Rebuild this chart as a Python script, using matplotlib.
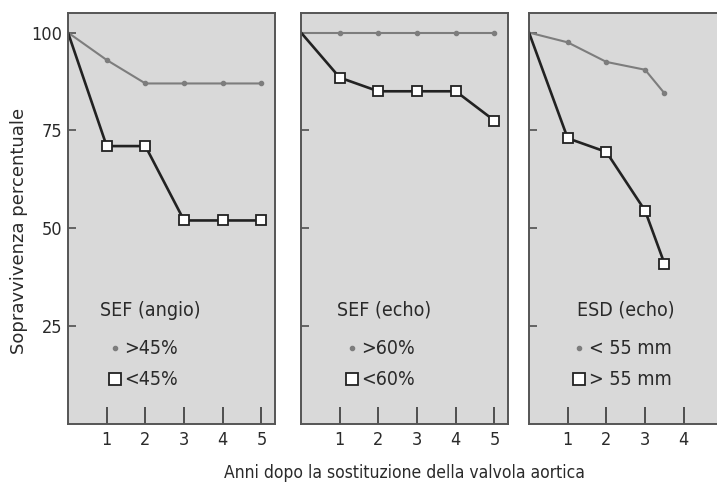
import matplotlib.pyplot as plt
from matplotlib.lines import Line2D

plt.rcParams['font.family'] = ['DejaVu Sans']
plt.rcParams['font.stretch'] = 'condensed'
plt.rcParams['text.color'] = '#2a2a2a'
plt.rcParams['xtick.labelcolor'] = '#2a2a2a'
plt.rcParams['ytick.labelcolor'] = '#2a2a2a'

# data
years_angio = [0, 1, 2, 3, 4, 5]
angio_hi = [100, 93, 87, 87, 87, 87]        # SEF > 45%
angio_lo = [100, 71, 71, 52, 52, 52]        # SEF < 45%

years_echo = [0, 1, 2, 3, 4, 5]
echo_hi = [100, 100, 100, 100, 100, 100]    # SEF > 60%
echo_lo = [100, 88.5, 85, 85, 85, 77.5]     # SEF < 60%

years_esd = [0, 1, 2, 3, 3.5]
esd_small = [100, 97.5, 92.5, 90.5, 84.5]   # ESD < 55 mm
esd_large = [100, 73, 69.5, 54.5, 41]       # ESD > 55 mm

titles = ["SEF (angio)", "SEF (echo)", "ESD (echo)"]
labels_gray = [">45%", ">60%", "< 55 mm"]
labels_black = ["<45%", "<60%", "> 55 mm"]
yticks = [25, 50, 75, 100]

W, H = 717, 483
fig = plt.figure(figsize=(W / 100, H / 100), dpi=100)

BG = '#d9d9d9'
GRAY = '#7d7d7d'
DARK = '#222222'

# left edge px, x data, series, title x, legend handle x (axes fraction)
panels = [
    (68, years_angio, angio_hi, angio_lo, 0.155, 0.188),
    (301, years_echo, echo_hi, echo_lo, 0.174, 0.207),
    (529, years_esd, esd_small, esd_large, 0.232, 0.205),
]

for i, (left, xs, hi, lo, tx, lx) in enumerate(panels):
    ax = fig.add_axes([left / W, (H - 424) / H, 207 / W, 411 / H])
    ax.set_facecolor(BG)
    ax.plot(xs, hi, color=GRAY, lw=1.5, marker='o', ms=3, markevery=slice(1, None))
    ax.plot(xs, lo, color=DARK, lw=1.9, marker='s', ms=7, mfc='white', mec=DARK,
            mew=1.3, markevery=slice(1, None))
    ax.set_xlim(0, 5.35)
    ax.set_ylim(0, 105)
    ax.set_xticks([1, 2, 3, 4, 5] if i < 2 else [1, 2, 3, 4])
    ax.set_yticks(yticks)
    ax.tick_params(axis='x', direction='in', length=12.5, width=1.3, color='#444',
                   labelsize=13, pad=5)
    ax.tick_params(axis='y', direction='in', length=6, width=1.1, color='#444',
                   labelsize=13, pad=4)
    if i > 0:
        ax.set_yticklabels([])
    for s in ax.spines.values():
        s.set_color('#555555')
        s.set_linewidth(1.4)

    ax.text(tx, 0.277, titles[i], transform=ax.transAxes, ha='left', va='center',
            fontsize=14)
    handles = [
        Line2D([], [], ls='none', marker='o', ms=3, color=GRAY),
        Line2D([], [], ls='none', marker='s', ms=8, mfc='white', mec=DARK, mew=1.3),
    ]
    ax.legend(handles, [labels_gray[i], labels_black[i]],
              loc='center left', bbox_to_anchor=(lx, 0.145),
              frameon=False, fontsize=14, handlelength=0.8, handletextpad=0.1,
              labelspacing=0.62, borderpad=0, borderaxespad=0)

fig.text(19 / W, 1 - 231 / H, "Sopravvivenza percentuale", rotation=90,
         ha='center', va='center', fontsize=13, fontstretch='normal')
fig.text(404 / W, 1 - 473 / H, "Anni dopo la sostituzione della valvola aortica",
         ha='center', va='center', fontsize=12.5)

fig.savefig("out.png", dpi=100)
